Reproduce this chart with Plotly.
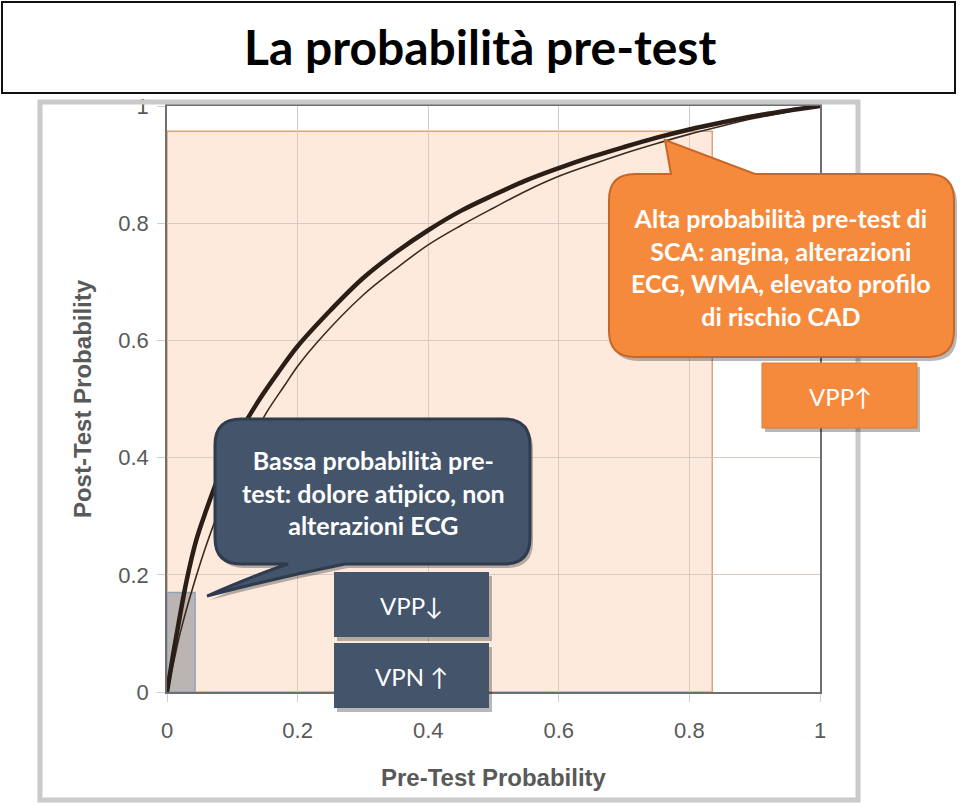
import plotly.graph_objects as go

# ---------------- data ----------------
pre_test = [0, 0.008, 0.015, 0.03, 0.045, 0.06, 0.08, 0.1, 0.12, 0.142, 0.17, 0.2, 0.25, 0.3,
            0.35, 0.4, 0.45, 0.5, 0.55, 0.6, 0.65, 0.7, 0.75, 0.8, 0.85, 0.9, 0.95, 1]
post_test_high = [0, 0.055, 0.10, 0.19, 0.26, 0.31, 0.37, 0.42, 0.46, 0.50, 0.545, 0.59, 0.651, 0.706,
                  0.750, 0.788, 0.821, 0.848, 0.873, 0.894, 0.913, 0.930, 0.946, 0.960, 0.972, 0.983, 0.992, 1]

pre_test_b = [0, 0.01, 0.02, 0.04, 0.06, 0.08, 0.1, 0.125, 0.153, 0.18, 0.2, 0.23, 0.3, 0.35,
              0.4, 0.45, 0.5, 0.55, 0.6, 0.65, 0.7, 0.75, 0.8, 0.85, 0.9, 0.95, 1]
post_test_low = [0, 0.05, 0.10, 0.18, 0.25, 0.31, 0.36, 0.42, 0.478, 0.523, 0.556, 0.597, 0.677, 0.722,
                 0.763, 0.796, 0.826, 0.855, 0.880, 0.900, 0.919, 0.936, 0.952, 0.966, 0.979, 0.990, 1]

tick_vals = [0, 0.2, 0.4, 0.6, 0.8, 1]
tick_text = ["0", "0.2", "0.4", "0.6", "0.8", "1"]

high_region = {"x_max": 0.835, "y_max": 0.957}
low_region = {"x_max": 0.043, "y_max": 0.17}

title_text = "La probabilità pre-test"
x_title = "Pre-Test Probability"
y_title = "Post-Test Probability"
high_text = "Alta probabilità pre-test di<br>SCA: angina, alterazioni<br>ECG, WMA, elevato profilo<br>di rischio CAD"
low_text = "Bassa probabilità pre-<br>test: dolore atipico, non<br>alterazioni ECG"
vpp_up = "VPP↑"
vpp_down = "VPP↓"
vpn_up = "VPN ↑"

# ---------------- layout helpers (pixel -> paper) ----------------
W, H = 960, 805
X0, X1, Y0, Y1 = 167, 820, 692, 106


def px(x):
    return (x - X0) / (X1 - X0)


def py(y):
    return (Y0 - y) / (Y0 - Y1)


def P(x, y):
    return f"{px(x):.5f},{py(y):.5f}"


def callout_path(x0, y0, x1, y1, r, tail=None, dx=0, dy=0):
    x0 += dx; x1 += dx; y0 += dy; y1 += dy
    s = f"M {P(x0 + r, y0)} "
    if tail and tail["side"] == "top":
        a, (tx, ty), b = tail["a"], tail["tip"], tail["b"]
        s += f"L {P(a + dx, y0)} L {P(tx + dx, ty + dy)} L {P(b + dx, y0)} "
    s += f"L {P(x1 - r, y0)} Q {P(x1, y0)} {P(x1, y0 + r)} "
    s += f"L {P(x1, y1 - r)} Q {P(x1, y1)} {P(x1 - r, y1)} "
    if tail and tail["side"] == "bottom":
        a, (tx, ty), b = tail["a"], tail["tip"], tail["b"]
        c1, c2 = tail["c1"], tail["c2"]
        s += (f"L {P(a + dx, y1)} Q {P(c1[0] + dx, c1[1] + dy)} {P(tx + dx, ty + dy)} "
              f"Q {P(c2[0] + dx, c2[1] + dy)} {P(b + dx, y1)} ")
    s += f"L {P(x0 + r, y1)} Q {P(x0, y1)} {P(x0, y1 - r)} "
    s += f"L {P(x0, y0 + r)} Q {P(x0, y0)} {P(x0 + r, y0)} Z"
    return s


def box(x0, y0, x1, y1, fill, line, dx=0, dy=0):
    return dict(type="rect", xref="paper", yref="paper", layer="above",
                x0=px(x0 + dx), x1=px(x1 + dx), y0=py(y1 + dy), y1=py(y0 + dy),
                fillcolor=fill, line=dict(color=line, width=1 if line else 0))


SLATE = "#44546a"
SLATE_EDGE = "#2f3c50"
ORANGE = "#f68a3c"
ORANGE_EDGE = "#c8662a"
SHADOW = "rgba(0,0,0,0.28)"

# ---------------- figure ----------------
fig = go.Figure()

fig.add_trace(go.Scatter(x=pre_test_b, y=post_test_low, mode="lines",
                         line=dict(color="#3b2a20", width=1.6, shape="spline"),
                         hoverinfo="skip", showlegend=False))
fig.add_trace(go.Scatter(x=pre_test, y=post_test_high, mode="lines",
                         line=dict(color="#2a1e17", width=4.5, shape="spline"),
                         hoverinfo="skip", showlegend=False))

shapes = []
# regions in data coords
shapes.append(dict(type="rect", xref="x", yref="y", layer="below",
                   x0=0, x1=high_region["x_max"], y0=0, y1=high_region["y_max"],
                   fillcolor="#fdeadd", line=dict(color="#dfa27a", width=1.5)))
shapes.append(dict(type="rect", xref="x", yref="y", layer="below",
                   x0=0, x1=low_region["x_max"], y0=0, y1=low_region["y_max"],
                   fillcolor="#bab5b3", line=dict(color="#8ea2bd", width=1.5)))

# panel frame and title box
shapes.append(dict(type="rect", xref="paper", yref="paper", layer="above",
                   x0=px(40), x1=px(858), y0=py(800), y1=py(102),
                   fillcolor="rgba(0,0,0,0)", line=dict(color="#cacaca", width=5)))
shapes.append(dict(type="rect", xref="paper", yref="paper", layer="above",
                   x0=px(2), x1=px(955), y0=py(93), y1=py(2),
                   fillcolor="white", line=dict(color="#111111", width=2)))

# orange callout
otail = dict(side="top", a=671, tip=(665, 140), b=755)
shapes.append(dict(type="path", xref="paper", yref="paper", layer="above",
                   path=callout_path(609, 174, 954, 357, 26, otail, dx=3, dy=4),
                   fillcolor=SHADOW, line=dict(width=0)))
shapes.append(dict(type="path", xref="paper", yref="paper", layer="above",
                   path=callout_path(609, 174, 954, 357, 26, otail),
                   fillcolor=ORANGE, line=dict(color=ORANGE_EDGE, width=2)))
shapes.append(box(762, 363, 917, 428, SHADOW, None, dx=3, dy=4))
shapes.append(box(762, 363, 917, 428, ORANGE, "#e07a30"))

# dark callout
dtail = dict(side="bottom", a=345, tip=(207, 596), b=288, c1=(275, 578), c2=(255, 575))
shapes.append(dict(type="path", xref="paper", yref="paper", layer="above",
                   path=callout_path(215, 419, 530, 564, 26, dtail, dx=3, dy=4),
                   fillcolor=SHADOW, line=dict(width=0)))
shapes.append(dict(type="path", xref="paper", yref="paper", layer="above",
                   path=callout_path(215, 419, 530, 564, 26, dtail),
                   fillcolor=SLATE, line=dict(color=SLATE_EDGE, width=3)))
shapes.append(box(334, 572, 489, 637, SHADOW, None, dx=3, dy=4))
shapes.append(box(334, 572, 489, 637, SLATE, None))
shapes.append(box(334, 643, 489, 708, SHADOW, None, dx=3, dy=4))
shapes.append(box(334, 643, 489, 708, SLATE, None))

CAL = "Lato, 'Open Sans', sans-serif"
annotations = [
    dict(text=f"<b>{title_text}</b>", x=px(480), y=py(46), xref="paper", yref="paper",
         showarrow=False, xanchor="center", yanchor="middle",
         font=dict(family=CAL, size=48, color="black")),
    dict(text=f"<b>{high_text}</b>", x=px(781), y=py(267), xref="paper", yref="paper",
         showarrow=False, xanchor="center", yanchor="middle", align="center",
         font=dict(family=CAL, size=25, color="white")),
    dict(text=f"<b>{low_text}</b>", x=px(373), y=py(493), xref="paper", yref="paper",
         showarrow=False, xanchor="center", yanchor="middle", align="center",
         font=dict(family=CAL, size=25, color="white")),
    dict(text=vpp_up, x=px(840), y=py(396), xref="paper", yref="paper",
         showarrow=False, xanchor="center", yanchor="middle",
         font=dict(family=CAL, size=24, color="white")),
    dict(text=vpp_down, x=px(411), y=py(605), xref="paper", yref="paper",
         showarrow=False, xanchor="center", yanchor="middle",
         font=dict(family=CAL, size=24, color="white")),
    dict(text=vpn_up, x=px(411), y=py(676), xref="paper", yref="paper",
         showarrow=False, xanchor="center", yanchor="middle",
         font=dict(family=CAL, size=24, color="white")),
]

TICKFONT = dict(family="Liberation Sans, Arial, sans-serif", size=22, color="#595959")
TITLEFONT = dict(family="Liberation Sans, Arial, sans-serif", size=24, color="#595959")

fig.update_layout(
    width=W, height=H,
    margin=dict(l=X0, r=W - X1, t=Y1, b=H - Y0, autoexpand=False),
    paper_bgcolor="white", plot_bgcolor="white",
    shapes=shapes, annotations=annotations,
    showlegend=False,
    xaxis=dict(range=[0, 1], tickvals=tick_vals, ticktext=tick_text, tickfont=TICKFONT,
               showgrid=True, gridcolor="#d6ccc4", gridwidth=1, zeroline=False,
               showline=True, linecolor="#6f6f6f", linewidth=1.5, mirror=True,
               ticks="outside", ticklen=8, tickcolor="#cfcfcf", ticklabelstandoff=10,
               title=dict(text=f"<b>{x_title}</b>", font=TITLEFONT, standoff=27)),
    yaxis=dict(range=[0, 1], tickvals=tick_vals, ticktext=tick_text, tickfont=TICKFONT,
               showgrid=True, gridcolor="#d6ccc4", gridwidth=1, zeroline=False,
               showline=True, linecolor="#6f6f6f", linewidth=1.5, mirror=True,
               ticks="outside", ticklen=8, tickcolor="#cfcfcf", ticklabelstandoff=4,
               title=dict(text=f"<b>{y_title}</b>", font=TITLEFONT, standoff=20)),
)

fig.write_html("out.html", config={"displayModeBar": False},
               post_script="document.body.style.margin='0px';")
